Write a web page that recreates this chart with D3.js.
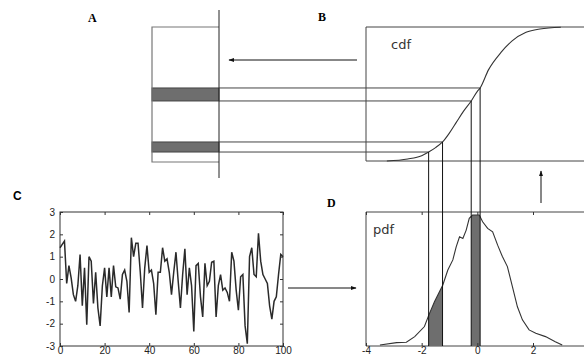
<!DOCTYPE html>
<html>
<head>
<meta charset="utf-8">
<script src="https://cdn.jsdelivr.net/npm/d3@7"></script>
<style>
    body { margin: 0; background: #fff; }
    svg { display: block; }
    .panel-label { font-family: "Liberation Serif", "DejaVu Serif", serif; font-weight: bold; font-size: 12px; }
    .curve-label { font-family: "DejaVu Sans", "Liberation Sans", sans-serif; font-size: 13px; fill: #333; }
    .tick text { font-family: "Liberation Sans", Arial, sans-serif; font-size: 10px; fill: #222; }
    .tick line { stroke: #333; }
</style>
</head>
<body>
<div id="chart"></div>
<script>

// panel C: noise signal, sample index 0..100
let signalValues = [
    1.4, 1.55, 1.7, -0.2, 0.6, 0.05, -0.7, -1.0, -0.3, 1.1,
    -1.2, 0.5, -2.05, 1.0, 0.8, -1.1, 0.3, -1.3, -2.1, -0.3,
    0.5, -0.8, 0.5, -0.8, 0.6, -0.35, -0.4, -0.9, 0.2, 0.4,
    -0.1, -1.5, 1.85, 1.0, 1.6, 1.6, 0.3, -1.3, 0.5, 1.5,
    0.3, 0.4, -0.2, -1.6, 0.3, 0.3, 1.4, 0.8, 0.9, 0.3,
    -0.7, 0.3, 1.2, -0.1, -1.3, 0.2, 1.35, -0.7, 0.5, -0.3,
    -2.35, 0.6, 0.7, -0.8, -1.7, 0.7, -0.3, -0.1, 0.75, 0.8,
    -1.7, -0.3, 0.2, -0.5, -0.4, -0.6, -1.0, 1.2, 0.8, -0.5,
    -1.4, 0.1, 0.2, -2.1, -2.9, 1.0, 1.4, 0.2, 0.1, 2.05,
    0.8, 0.2, 0.0, -0.2, -1.2, -1.8, -1.0, -0.8, 0.2, 1.1,
    1.0
];
let signalXTicks = [0, 20, 40, 60, 80, 100];
let signalYTicks = [3, 2, 1, 0, -1, -2, -3];

// panel B: cumulative distribution (value, cdf)
let cdfX = [-3.25, -2.5, -2.0, -1.75, -1.5, -1.25, -1.0, -0.75, -0.5, -0.22, 0.0, 0.1, 0.4, 0.85, 1.25, 1.75, 2.25, 3.0];
let cdfY = [0, 0.015, 0.04, 0.067, 0.1, 0.142, 0.21, 0.29, 0.37, 0.448, 0.52, 0.545, 0.68, 0.81, 0.896, 0.96, 0.985, 0.998];

// panel D: probability density (value, pdf)
let pdfX = [-3.5, -2.9, -2.55, -2.25, -1.9, -1.74, -1.54, -1.24, -1.06, -0.88, -0.76, -0.64, -0.52, -0.4, -0.29, -0.17, 0.07, 0.19, 0.37, 0.55, 0.73, 0.9, 1.08, 1.26, 1.44, 1.62, 1.86, 2.1, 2.45, 2.8, 3.05];
let pdfY = [0.003, 0.01, 0.011, 0.028, 0.058, 0.093, 0.132, 0.182, 0.227, 0.257, 0.296, 0.326, 0.321, 0.346, 0.381, 0.391, 0.391, 0.371, 0.351, 0.341, 0.301, 0.267, 0.237, 0.177, 0.117, 0.078, 0.048, 0.038, 0.028, 0.013, 0.003];
let pdfXTicks = [-4, -2, 0, 2];

// two value bins, mapped through the cdf
let binEdges = [[-1.75, -1.25], [-0.22, 0.1]];


let width = 584, height = 356;

let svg = d3.select("#chart").append("svg")
    .attr("width", width)
    .attr("height", height);

// shared scales
let x = d3.scaleLinear().domain([-4, 2]).range([366, 533]);
let yCdf = d3.scaleLinear().domain([0, 1]).range([161, 27]);
let yPdf = d3.scaleLinear().domain([0, 0.4]).range([346, 212]);
let xSig = d3.scaleLinear().domain([0, 100]).range([60, 283]);
let ySig = d3.scaleLinear().domain([-3, 3]).range([346, 212]);

function interp(xs, ys, v) {
    for (let i = 1; i < xs.length; i++) {
        if (v <= xs[i]) {
            let t = (v - xs[i - 1]) / (xs[i] - xs[i - 1]);
            return ys[i - 1] + t * (ys[i] - ys[i - 1]);
        }
    }
    return ys[ys.length - 1];
}

let cdfData = cdfX.map((d, i) => ({x: d, y: cdfY[i]}));
let pdfData = pdfX.map((d, i) => ({x: d, y: pdfY[i]}));

// ---- panel labels
let labels = [["A", 88, 22], ["B", 318, 21], ["C", 13, 200], ["D", 327, 207]];
svg.selectAll(".panel-label")
    .data(labels)
    .enter().append("text")
    .attr("class", "panel-label")
    .attr("x", d => d[1])
    .attr("y", d => d[2])
    .style("font-family", d => d[0] === "C" ? "'Liberation Sans', Arial, sans-serif" : null)
    .text(d => d[0]);

// ---- panel A: quantised output levels
let aLeft = 152, aRight = 219;

svg.selectAll(".band")
    .data(binEdges)
    .enter().append("rect")
    .attr("class", "band")
    .attr("x", aLeft)
    .attr("width", aRight - aLeft)
    .attr("y", d => yCdf(interp(cdfX, cdfY, d[1])))
    .attr("height", d => yCdf(interp(cdfX, cdfY, d[0])) - yCdf(interp(cdfX, cdfY, d[1])))
    .attr("fill", "#6e6e6e")
    .attr("stroke", "#444");

svg.append("path")
    .attr("d", `M${aRight},${yCdf(1)}H${aLeft}V${yCdf(0) + 1}H${aRight}`)
    .attr("fill", "none")
    .attr("stroke", "#777")
    .attr("stroke-width", 1.2);

svg.append("line")
    .attr("x1", aRight).attr("x2", aRight)
    .attr("y1", 10).attr("y2", 178)
    .attr("stroke", "#222");

// ---- panel B: cdf box, extends past the right edge
svg.append("path")
    .attr("d", `M${width},${yCdf(1)}H${x(-4)}V${yCdf(0)}H${width}`)
    .attr("fill", "none")
    .attr("stroke", "#444");

svg.append("path")
    .datum(cdfData)
    .attr("fill", "none")
    .attr("stroke", "#333")
    .attr("stroke-width", 1.1)
    .attr("d", d3.line().x(d => x(d.x)).y(d => yCdf(d.y)).curve(d3.curveMonotoneX));

svg.append("text")
    .attr("class", "curve-label")
    .attr("x", 391)
    .attr("y", 49)
    .text("cdf");

// ---- panel D: pdf box
svg.append("path")
    .attr("d", `M${width},${yPdf(0.4)}H${x(-4)}V${yPdf(0)}H${width}`)
    .attr("fill", "none")
    .attr("stroke", "#444");

// shaded areas under the pdf for each bin
let area = d3.area()
    .x(d => x(d.x))
    .y0(yPdf(0))
    .y1(d => yPdf(d.y));

binEdges.forEach(b => {
    let pts = [{x: b[0], y: interp(pdfX, pdfY, b[0])}];
    pdfData.forEach(d => { if (d.x > b[0] && d.x < b[1]) pts.push(d); });
    pts.push({x: b[1], y: interp(pdfX, pdfY, b[1])});
    svg.append("path")
        .datum(pts)
        .attr("fill", "#6e6e6e")
        .attr("d", area);
});

svg.append("path")
    .datum(pdfData)
    .attr("fill", "none")
    .attr("stroke", "#333")
    .attr("stroke-width", 1.1)
    .attr("d", d3.line().x(d => x(d.x)).y(d => yPdf(d.y)));

svg.append("text")
    .attr("class", "curve-label")
    .attr("x", 373)
    .attr("y", 234)
    .text("pdf");

let xAxisD = svg.append("g")
    .attr("transform", `translate(0,${yPdf(0)})`)
    .call(d3.axisBottom(x).tickValues(pdfXTicks).tickSizeInner(-3).tickSizeOuter(0).tickPadding(1).tickFormat(d => String(d)));
xAxisD.select(".domain").remove();

let xAxisDTop = svg.append("g")
    .attr("transform", `translate(0,${yPdf(0.4)})`)
    .call(d3.axisTop(x).tickValues(pdfXTicks).tickSizeInner(-3).tickSizeOuter(0).tickFormat(""));
xAxisDTop.select(".domain").remove();

// ---- connector lines: levels in A -> cdf -> pdf
binEdges.flat().forEach(v => {
    let yc = yCdf(interp(cdfX, cdfY, v));
    svg.append("line")
        .attr("x1", aRight).attr("x2", x(v))
        .attr("y1", yc).attr("y2", yc)
        .attr("stroke", "#444");
    svg.append("line")
        .attr("x1", x(v)).attr("x2", x(v))
        .attr("y1", yc).attr("y2", yPdf(0))
        .attr("stroke", "#111");
});

// ---- panel C: signal
svg.append("rect")
    .attr("x", xSig(0))
    .attr("y", ySig(3))
    .attr("width", xSig(100) - xSig(0))
    .attr("height", ySig(-3) - ySig(3))
    .attr("fill", "none")
    .attr("stroke", "#333");

svg.append("path")
    .datum(signalValues)
    .attr("fill", "none")
    .attr("stroke", "#2a2a2a")
    .attr("stroke-width", 1.5)
    .attr("d", d3.line().x((d, i) => xSig(i)).y(d => ySig(d)));

let sigAxes = [
    [d3.axisBottom(xSig).tickValues(signalXTicks).tickFormat(d => String(d)), `translate(0,${ySig(-3)})`, 1],
    [d3.axisTop(xSig).tickValues(signalXTicks).tickFormat(""), `translate(0,${ySig(3)})`, 3],
    [d3.axisLeft(ySig).tickValues(signalYTicks).tickFormat(d => String(d)), `translate(${xSig(0)},0)`, 5],
    [d3.axisRight(ySig).tickValues(signalYTicks).tickFormat(""), `translate(${xSig(100)},0)`, 3]
];
sigAxes.forEach(a => {
    let g = svg.append("g")
        .attr("transform", a[1])
        .call(a[0].tickSizeInner(-3).tickSizeOuter(0).tickPadding(a[2]));
    g.select(".domain").remove();
});

// ---- arrows
svg.append("defs").append("marker")
    .attr("id", "head")
    .attr("viewBox", "0 0 10 10")
    .attr("refX", 9).attr("refY", 5)
    .attr("markerWidth", 6).attr("markerHeight", 6)
    .attr("orient", "auto")
    .append("path")
    .attr("d", "M0,1.5L10,5L0,8.5z")
    .attr("fill", "#111");

// [x1, y1, x2, y2]
let arrows = [[357, 60, 229, 60], [288, 288, 356, 288], [541, 203, 541, 171]];
svg.selectAll(".arrow")
    .data(arrows)
    .enter().append("line")
    .attr("class", "arrow")
    .attr("x1", d => d[0])
    .attr("y1", d => d[1])
    .attr("x2", d => d[2])
    .attr("y2", d => d[3])
    .attr("stroke", "#111")
    .attr("marker-end", "url(#head)");

</script>
</body>
</html>
